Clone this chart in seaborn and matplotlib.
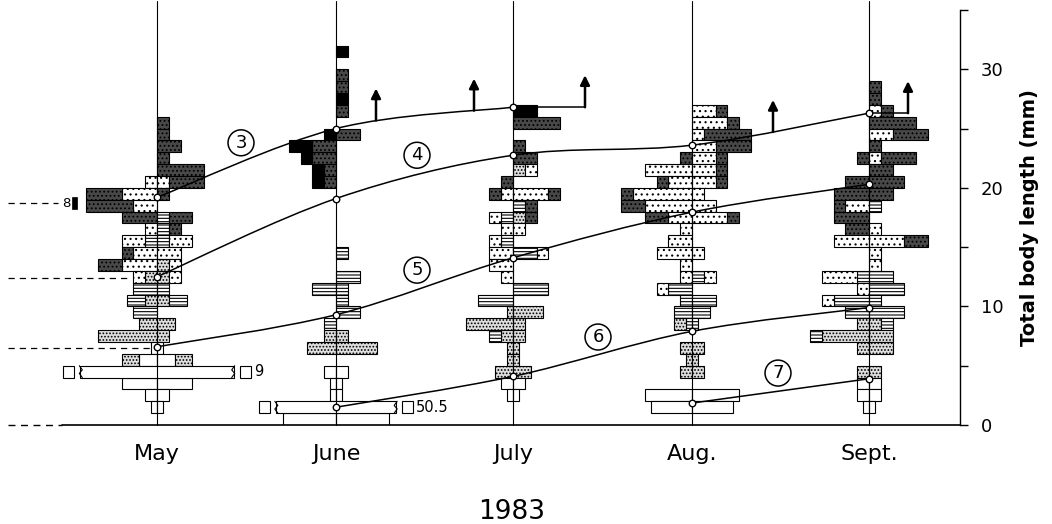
import numpy as np
import matplotlib
matplotlib.use("Agg")
import matplotlib.pyplot as plt
from matplotlib.path import Path
from matplotlib.patches import PathPatch, Rectangle
import seaborn as sns

# ---------------- data ----------------
months = ["May", "June", "July", "Aug.", "Sept."]
year_label = "1983"
ylabel = "Total body length (mm)"

# Length-frequency rows per month: (size class lower bound in mm,
# "left segments | right segments"), segments listed from the centre line outward.
# Stage code + number of individuals.
# O open, H horizontal lines, F fine stipple, C coarse dots, D dark stipple, B black
may_rows = [
    (25, "| D1"), (24, "| D1"), (23, "| D2"), (22, "| D1"), (21, "| D4"),
    (20, "C1 | C1 D3"), (19, "C3 D3 | D1"), (18, "C2 D4 |"), (17, "D3 | H1 D2"),
    (16, "C1 | H1 D1"), (15, "H1 C2 | H1 C2"), (14, "C2 D1 | C2"),
    (13, "C3 D2 | F1 C1"), (12, "F1 C1 | F1 C1"), (11, "H2 | H1"),
    (10, "F1 H1.5 | F1 H1.5"), (9, "H2 |"), (8, "F1.5 | F1.5"), (7, "F5 | F1"),
    (6, "O0.5 | O0.5"), (5, "O1.5 F1.5 | O1.5 F1.5"), (3, "O3 | O3"),
    (2, "O1 | O1"), (1, "O0.5 | O0.5"),
]
june_rows = [
    (31, "| B1"), (29, "| D1"), (28, "| D1"), (27, "| B1"), (26, "| D1"),
    (24, "B1 | D2"), (23, "D2 B2 |"), (22, "D2 B1 |"), (21, "D1 B1 |"), (20, "D1 B1 |"),
    (14, "| H1"), (12, "| H2"), (11, "H2 | H1"), (10, "| H1"), (9, "| H2"),
    (8, "H1 |"), (7, "F1 | F1"), (6, "F2.5 | F3.5"), (4, "O1 | O1"),
    (3, "O0.5 | O0.5"), (2, "O0.5 | O0.5"), (0, "O4.5 | O4.5"),
]
july_rows = [
    (26, "| B2"), (25, "| D4"), (23, "| D1"), (22, "| D2"), (21, "| F1 C1"),
    (20, "D1 |"), (19, "C1 D1 | C3 D1"), (18, "| H1 D1"), (17, "H1 C1 | F1 D1"),
    (16, "C1 | C1"), (15, "H1 C1 |"), (14, "C2 | H2 C1"), (13, "C2 |"), (12, "C1 |"),
    (11, "| H3"), (10, "H3 |"), (9, "F0.5 | F2.5"), (8, "F4 | F1"), (7, "F1 H1 | F1"),
    (6, "F0.5 | F0.5"), (5, "F0.5 | F0.5"), (4, "F1.5 | F1.5"), (3, "O1 | O1"),
    (2, "O0.5 | O0.5"),
]
aug_rows = [
    (26, "| C2 D1"), (25, "| C3 D1"), (24, "| C1 D4"), (23, "| C2 D3"),
    (22, "D1 | C2 D1"), (21, "C4 | C2 D1"), (20, "C2 D1 | C2 D1"), (19, "C5 D1 | C1"),
    (18, "C4 D2 | C2"), (17, "C2 D2 | C3 D1"), (16, "C1 |"), (15, "C2 |"),
    (14, "C3 | C1"), (13, "C1 |"), (12, "C1 | H1 C1"), (11, "H2 C1 |"),
    (10, "H1 | H2"), (9, "H1.5 | H1.5"), (8, "H0.5 F1 | H0.5"), (6, "F1 | F1"),
    (5, "F0.5 | F0.5"), (4, "F1 | F1"), (2, "O4 | O4"), (1, "O3.5 | O3.5"),
]
sept_rows = [
    (28, "| D1"), (27, "| D1"), (26, "| C1 D1"), (25, "| D4"), (24, "| C2 D3"),
    (23, "| D1"), (22, "D1 | C1 D3"), (21, "| D2"), (20, "D2 | D3"), (19, "D3 | D2"),
    (18, "C2 D1 | H1"), (17, "D3 |"), (16, "D2 | C1"), (15, "C3 | C3 D2"),
    (14, "| C1"), (13, "| C1"), (12, "H1 C3 | H2"), (11, "C1 | H3"),
    (10, "H3 C1 | H1"), (9, "H2 | H3"), (8, "F1 | F1 H1"), (7, "F4 H1 | F2"),
    (6, "F1 | F2"), (4, "F1 | F1"), (3, "O1 | O1"), (2, "O1 | O1"), (1, "O0.5 | O0.5"),
]

# truncated (broken) bars
broken_month = ["May", "June"]
broken_size = [4, 1]
broken_value = ["9", "50.5"]

# cohort growth (mean lengths, mm)
cohort_ids = ["3", "4", "5", "6", "7"]
cohort_months = [
    ["May", "June", "July"],
    ["May", "June", "July", "Aug.", "Sept."],
    ["May", "June", "July", "Aug.", "Sept."],
    ["June", "July", "Aug.", "Sept."],
    ["Aug.", "Sept."],
]
cohort_lengths = [
    [19.2, 25.0, 26.8],
    [12.5, 19.1, 22.75, 23.6, 26.3],
    [6.6, 9.3, 14.1, 17.95, 20.3],
    [1.5, 4.1, 7.9, 9.9],
    [1.85, 3.9],
]
may_ref_lengths = [18.7, 12.4, 6.5]

# ---------------- layout / style ----------------
W, H = 1052, 524
month_x = dict(zip(months, [157, 336, 513, 692, 869]))
U = 11.8  # px per individual
STYLE = {
    "O": dict(facecolor="white", hatch=None),
    "H": dict(facecolor="white", hatch="-----"),
    "F": dict(facecolor="#dedede", hatch="....."),
    "C": dict(facecolor="white", hatch="..."),
    "D": dict(facecolor="#484848", hatch="...."),
    "B": dict(facecolor="black", hatch=None),
}

sns.set_theme(style="white")
plt.rcParams["font.family"] = ["DejaVu Sans"]
plt.rcParams["hatch.linewidth"] = 0.8
for k in ["text.color", "axes.labelcolor", "xtick.color", "ytick.color"]:
    plt.rcParams[k] = "black"

fig = plt.figure(figsize=(W / 100, H / 100), dpi=100)
ax = fig.add_axes([0, (H - 425) / H, 960 / W, 415 / H])
ax.set_xlim(0, 960)
ax.set_ylim(0, 35)

all_rows = [may_rows, june_rows, july_rows, aug_rows, sept_rows]
for m, rows in zip(months, all_rows):
    cx = month_x[m]
    for size, spec in rows:
        left, right = spec.split("|")
        for side, part in ((-1, left), (1, right)):
            cum = 0.0
            for tok in part.split():
                st, n = tok[0], float(tok[1:])
                w = n * U
                x0 = cx + cum if side > 0 else cx - cum - w
                ax.barh(size + 0.5, w, left=x0, height=1, edgecolor="black",
                        linewidth=0.8, zorder=2, **STYLE[st])
                cum += w

# broken bars
broken_half = {"May": 6.5, "June": 5.1}
for m, s, v in zip(broken_month, broken_size, broken_value):
    cx = month_x[m]
    hw = broken_half[m] * U
    ax.barh(s + 0.5, 2 * hw, left=cx - hw, height=1, facecolor="white",
            edgecolor="black", linewidth=0.8, zorder=2)
    for xe, d in ((cx - hw, 1), (cx + hw, -1)):
        ax.plot([xe + 2 * d, xe - 1 * d, xe + 2 * d, xe - 1 * d],
                [s + 0.0, s + 0.35, s + 0.65, s + 1.0], color="black", lw=0.8, zorder=3)
    sq = 11
    ax.add_patch(Rectangle((cx - hw - 6 - sq, s), sq, 1, facecolor="white",
                           edgecolor="black", lw=0.8, zorder=2))
    ax.add_patch(Rectangle((cx + hw + 6, s), sq, 1, facecolor="white",
                           edgecolor="black", lw=0.8, zorder=2))
    ax.text(cx + hw + 6 + sq + 3, s + 0.5, v, ha="left", va="center", fontsize=10.5)

# month centre lines
for m in months:
    ax.plot([month_x[m], month_x[m]], [0, 35.8], color="black", lw=0.8,
            zorder=3, clip_on=False)


def smooth_path(xs, ys):
    P = np.column_stack([xs, ys]).astype(float)
    n = len(P)
    verts = [P[0]]
    codes = [Path.MOVETO]
    for i in range(n - 1):
        p0 = P[i - 1] if i > 0 else P[i]
        p3 = P[i + 2] if i + 2 < n else P[i + 1]
        c1 = P[i] + (P[i + 1] - p0) / 6
        c2 = P[i + 1] - (p3 - P[i]) / 6
        verts += [c1, c2, P[i + 1]]
        codes += [Path.CURVE4] * 3
    return Path(verts, codes)


curve_paths = {}
for cid, cm, cl in zip(cohort_ids, cohort_months, cohort_lengths):
    xs = [month_x[m] for m in cm]
    p = smooth_path(xs, cl)
    curve_paths[cid] = p
    ax.add_patch(PathPatch(p, facecolor="none", edgecolor="black", lw=1.1, zorder=4))


def curve_y(cid, x):
    poly = curve_paths[cid].to_polygons(closed_only=False)[0]
    return float(np.interp(x, poly[:, 0], poly[:, 1]))


arrow_len = 2.7
ext = {"3": 585, "4": 908}
for cid, xe in ext.items():
    i = cohort_ids.index(cid)
    x_last = month_x[cohort_months[i][-1]]
    y_last = cohort_lengths[i][-1]
    ax.plot([x_last, xe], [y_last, y_last], color="black", lw=1.1, zorder=4)
    ax.annotate("", xy=(xe, y_last + arrow_len), xytext=(xe, y_last),
                arrowprops=dict(arrowstyle="-|>", lw=1.8, color="black",
                                mutation_scale=14, shrinkA=0, shrinkB=0), zorder=5)
for cid, xa in (("3", 376), ("3", 474), ("4", 773)):
    ya = curve_y(cid, xa)
    ax.annotate("", xy=(xa, ya + arrow_len), xytext=(xa, ya),
                arrowprops=dict(arrowstyle="-|>", lw=1.8, color="black",
                                mutation_scale=14, shrinkA=0, shrinkB=0), zorder=5)

# cohort mean points
pts_x, pts_y = [], []
for cm, cl in zip(cohort_months, cohort_lengths):
    pts_x += [month_x[m] for m in cm]
    pts_y += cl
sns.scatterplot(x=pts_x, y=pts_y, ax=ax, marker="o", s=22, facecolor="white",
                edgecolor="black", linewidth=1.0, zorder=6, legend=False)

# circled cohort labels
label_pos = {"3": (241, 23.8), "4": (417, 22.75), "5": (417, 13.06),
             "6": (598, 7.42), "7": (778, 4.38)}
for cid in cohort_ids:
    lx, ly = label_pos[cid]
    ax.text(lx, ly, cid, ha="center", va="center", fontsize=13, zorder=7,
            bbox=dict(boxstyle="circle,pad=0.22", facecolor="white",
                      edgecolor="black", lw=1.1))

# left reference dashes
for yv, xe in zip(may_ref_lengths, [58, 128, 150]):
    ax.plot([8, xe], [yv, yv], color="black", lw=0.9, ls=(0, (5, 4)),
            zorder=1, clip_on=False)
ax.text(62, may_ref_lengths[0], "8", ha="left", va="center", fontsize=9.5)
ax.add_patch(Rectangle((72, may_ref_lengths[0] - 0.5), 5, 1.0, facecolor="black",
                       edgecolor="black", lw=0.5, zorder=2))

# bottom axis line
ax.plot([8, 62], [0, 0], color="black", lw=1.0, ls=(0, (5, 4)), clip_on=False)
ax.plot([62, 960], [0, 0], color="black", lw=1.2, clip_on=False, zorder=3)

# spines / ticks
for sp in ["left", "top", "bottom"]:
    ax.spines[sp].set_visible(False)
ax.spines["right"].set_color("black")
ax.spines["right"].set_linewidth(1.0)
ax.yaxis.tick_right()
ax.yaxis.set_label_position("right")
ax.set_yticks([0, 10, 20, 30])
ax.set_yticks([5, 15, 25, 35], minor=True)
ax.tick_params(axis="y", which="both", direction="out", length=6, width=1,
               right=True, left=False, labelsize=13, pad=9, colors="black")
ax.set_ylabel(ylabel, fontsize=14, fontweight="bold", labelpad=12, color="black")
ax.set_xticks([month_x[m] for m in months])
ax.set_xticklabels(months, fontsize=16, color="black")
ax.tick_params(axis="x", length=0, pad=14)

fig.text(512 / W, 1 - 512 / H, year_label, ha="center", va="center", fontsize=19,
         color="black")

fig.savefig("out.png", dpi=100)
